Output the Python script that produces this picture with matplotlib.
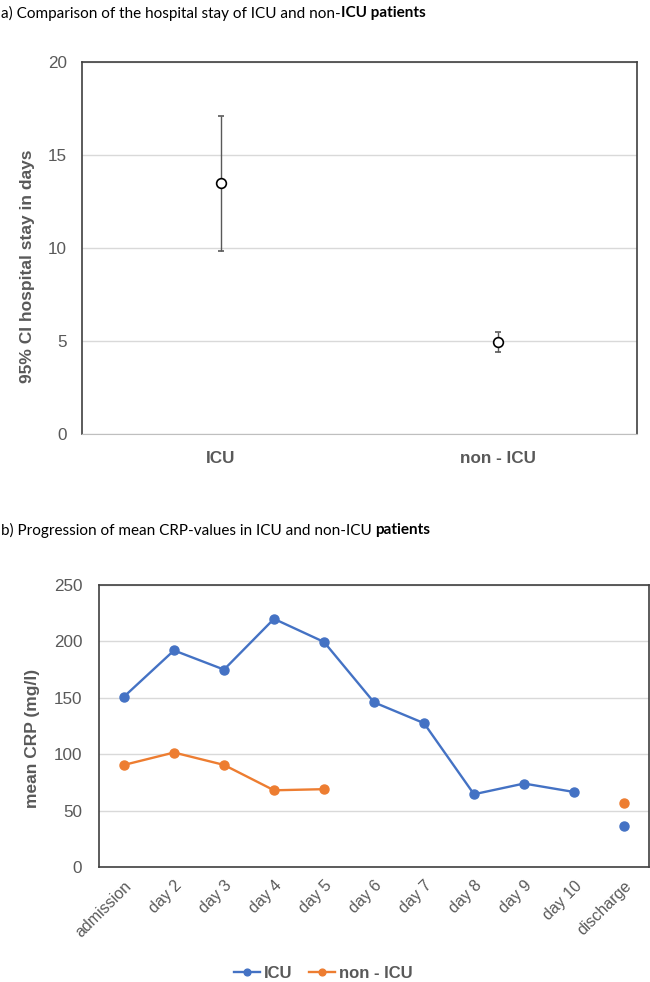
import matplotlib
matplotlib.use("Agg")
import matplotlib.pyplot as plt
import numpy as np

# ---- data ----
groups = ["ICU", "non - ICU"]
stay_mean = [13.5, 4.95]
stay_lower = [9.85, 4.4]
stay_upper = [17.1, 5.5]

days = ["admission", "day 2", "day 3", "day 4", "day 5", "day 6", "day 7",
        "day 8", "day 9", "day 10", "discharge"]
crp_icu = [151, 192, 175, 220, 199.5, 146, 127.5, 64.5, 74, 66.5, 36.5]
crp_non_icu = [90.5, 101.5, 90.5, 68, 69, None, None, None, None, None, 56.5]

BLUE = "#4472C4"
ORANGE = "#ED7D31"
GRAY = "#595959"
GRID = "#D9D9D9"
SPINE = "#404040"

plt.rcParams['font.family'] = ['Liberation Sans', 'DejaVu Sans']

W, H = 650, 982
fig = plt.figure(figsize=(W / 100, H / 100), dpi=100)
renderer = fig.canvas.get_renderer()

def ax_rect(l, t, r, b):
    return [l / W, 1 - b / H, (r - l) / W, (b - t) / H]

def title(ypix, regular, bold):
    t1 = fig.text(1 / W, 1 - ypix / H, regular, fontsize=11, family=['Lato', 'DejaVu Sans'],
                  va='center', ha='left', color='black')
    bb = t1.get_window_extent(renderer=renderer)
    fig.text(bb.x1 / W, 1 - ypix / H, bold, fontsize=11, family=['Lato', 'DejaVu Sans'],
             fontweight='bold', va='center', ha='left', color='black')

TICK_FS = 12.3
LAB_FS = 12.5

# ---- panel a ----
title(13, "a) Comparison of the hospital stay of ICU and non-", "ICU patients")

ax1 = fig.add_axes(ax_rect(82, 62, 637, 434))
x = np.arange(len(groups))
yerr = [np.array(stay_mean) - np.array(stay_lower), np.array(stay_upper) - np.array(stay_mean)]
ax1.errorbar(x, stay_mean, yerr=yerr, fmt='o', mfc='white', mec='black', mew=1.2, ms=7,
             ecolor='#595959', elinewidth=1.0, capsize=2.3, capthick=1.0, zorder=3)
ax1.set_xlim(-0.5, 1.5)
ax1.set_ylim(0, 20)
ax1.set_yticks([0, 5, 10, 15, 20])
ax1.set_xticks(x)
ax1.set_xticklabels(groups, fontweight='bold', color=GRAY, fontsize=TICK_FS)
ax1.tick_params(axis='both', length=0, colors=GRAY, labelsize=TICK_FS)
ax1.tick_params(axis='x', pad=12)
ax1.tick_params(axis='y', pad=11)
ax1.grid(axis='y', color=GRID, linewidth=1)
ax1.set_axisbelow(True)
for s in ['left', 'top', 'right']:
    ax1.spines[s].set_color(SPINE)
    ax1.spines[s].set_linewidth(1.2)
ax1.spines['bottom'].set_color('#BFBFBF')
fig.text(28 / W, 1 - 266 / H, "95% CI hospital stay in days", rotation=90, ha='center', va='center',
         fontweight='bold', color=GRAY, fontsize=LAB_FS)

# ---- panel b ----
title(530, "b) Progression of mean CRP-values in ICU and non-ICU ", "patients")

ax2 = fig.add_axes(ax_rect(99, 585, 649, 867))
xd = np.arange(len(days))
icu = np.array(crp_icu, dtype=float)
non = np.array([np.nan if v is None else v for v in crp_non_icu], dtype=float)
# connected segments (discharge shown as a separate point)
ax2.plot(xd[:-1], icu[:-1], '-o', color=BLUE, lw=1.7, ms=6.5, label='ICU', zorder=3)
ax2.plot(xd[-1:], icu[-1:], 'o', color=BLUE, ms=6.5, zorder=3)
ax2.plot(xd[:-1], non[:-1], '-o', color=ORANGE, lw=1.7, ms=6.5, label='non - ICU', zorder=3)
ax2.plot(xd[-1:], non[-1:], 'o', color=ORANGE, ms=6.5, zorder=3)
ax2.set_xlim(-0.5, len(days) - 0.5)
ax2.set_ylim(0, 250)
ax2.set_yticks(np.arange(0, 251, 50))
ax2.set_xticks(xd)
ax2.set_xticklabels(days, rotation=45, ha='right', rotation_mode='anchor', color=GRAY, fontsize=11.5)
ax2.tick_params(axis='both', length=0, colors=GRAY, labelsize=TICK_FS)
ax2.tick_params(axis='x', labelsize=11.5, pad=8)
ax2.tick_params(axis='y', pad=12)
ax2.grid(axis='y', color=GRID, linewidth=1)
ax2.set_axisbelow(True)
for s in ax2.spines.values():
    s.set_color(SPINE)
    s.set_linewidth(1.2)
fig.text(33 / W, 1 - 738 / H, "mean CRP (mg/l)", rotation=90, ha='center', va='center',
         fontweight='bold', color=GRAY, fontsize=LAB_FS)

leg = fig.legend(loc='center', bbox_to_anchor=(323 / W, 1 - 973 / H), ncol=2, frameon=False,
                 prop={'weight': 'bold', 'size': 12}, handlelength=1.6, columnspacing=1.0,
                 handletextpad=0.2, markerscale=0.75)
for t in leg.get_texts():
    t.set_color(GRAY)

fig.savefig("out.png", dpi=100)
